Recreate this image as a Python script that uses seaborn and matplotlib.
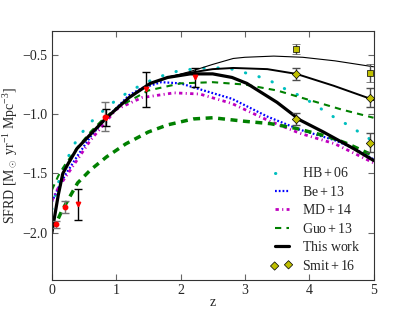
import numpy as np
import pandas as pd
import matplotlib
matplotlib.use("Agg")
import matplotlib.pyplot as plt
import seaborn as sns

# model curves (z, log SFRD)
hb_z = [0, 0.1, 0.2, 0.4, 0.6, 0.8, 1.0, 1.2, 1.4, 1.6, 1.8, 2.0, 2.2, 2.4, 2.6,
        2.8, 3.0, 3.2, 3.4, 3.6, 3.8, 4.0, 4.2, 4.4, 4.6, 4.8, 5.0]
hb_y = [-1.80, -1.58, -1.42, -1.20, -1.07, -0.97, -0.88, -0.81, -0.75, -0.70, -0.66,
        -0.63, -0.62, -0.61, -0.61, -0.62, -0.65, -0.68, -0.72, -0.78, -0.83, -0.89,
        -0.96, -1.03, -1.09, -1.16, -1.23]

be_z = [0, 0.1, 0.2, 0.4, 0.6, 0.8, 1.0, 1.2, 1.4, 1.7, 2.0, 2.3, 2.8, 3.35, 3.85, 4.4, 4.7, 5.0]
be_y = [-1.74, -1.62, -1.52, -1.35, -1.19, -1.06, -0.95, -0.84, -0.78, -0.73, -0.74,
        -0.79, -0.87, -1.02, -1.13, -1.22, -1.29, -1.38]

md_z = [0, 0.1, 0.2, 0.4, 0.6, 0.8, 1.0, 1.4, 1.9, 2.3, 2.8, 3.35, 3.85, 4.4, 5.0]
md_y = [-1.73, -1.62, -1.54, -1.38, -1.22, -1.09, -0.96, -0.86, -0.82, -0.83, -0.91,
        -1.05, -1.16, -1.25, -1.41]

guo_hi_z = [0, 0.1, 0.2, 0.4, 0.6, 0.8, 1.0, 1.5, 2.0, 2.5, 3.0, 3.5, 4.0, 4.5, 5.0]
guo_hi_y = [-1.64, -1.52, -1.43, -1.28, -1.15, -1.04, -0.95, -0.80, -0.74, -0.73,
            -0.75, -0.80, -0.88, -0.96, -1.03]

guo_lo_z = [0.1, 0.15, 0.4, 0.6, 0.85, 1.15, 1.5, 1.8, 2.2, 2.5, 3.0, 3.4, 3.8, 4.3, 4.6, 5.0]
guo_lo_y = [-1.88, -1.82, -1.58, -1.47, -1.36, -1.25, -1.15, -1.09, -1.04, -1.03,
            -1.06, -1.08, -1.12, -1.19, -1.25, -1.35]

work_z = [0, 0.05, 0.1, 0.17, 0.25, 0.39, 0.6, 0.85, 1.2, 1.53, 1.8, 2.15, 2.5, 2.8,
          3.03, 3.5, 3.86, 4.22, 4.69, 5.0]
work_y = [-2.0, -1.84, -1.68, -1.50, -1.42, -1.29, -1.17, -1.03, -0.86, -0.74, -0.69,
          -0.66, -0.66, -0.69, -0.74, -0.90, -1.05, -1.15, -1.29, -1.39]

work_mid_z = [1.8, 2.15, 2.5, 2.82, 3.35, 3.8, 4.38, 4.9, 5.0]
work_mid_y = [-0.69, -0.65, -0.62, -0.61, -0.62, -0.66, -0.76, -0.86, -0.88]

work_thin_z = [1.8, 2.15, 2.5, 2.82, 3.0, 3.45, 3.9, 4.4, 5.0]
work_thin_y = [-0.69, -0.64, -0.58, -0.53, -0.52, -0.51, -0.52, -0.55, -0.60]

# observations
obs_grey_z = [0.06, 0.2, 0.82]
obs_grey_y = [-1.93, -1.78, -1.02]
obs_grey_e = [0.03, 0.05, 0.12]

obs_z = [0.4, 0.84, 1.47, 2.23]
obs_y = [-1.76, -1.03, -0.79, -0.69]
obs_e = [0.13, 0.07, 0.15, 0.08]

smit_sq_z = [3.8, 4.95]
smit_sq_y = [-0.45, -0.65]
smit_sq_e = [0.045, 0.075]

smit_z = [3.8, 3.8, 4.95, 4.95]
smit_y = [-0.66, -1.04, -0.86, -1.24]
smit_e = [0.05, 0.05, 0.08, 0.08]

sns.set_style("ticks")
plt.rcParams["font.family"] = ["Liberation Serif", "DejaVu Serif"]
plt.rcParams["mathtext.fontset"] = "custom"
plt.rcParams["mathtext.rm"] = "Liberation Serif"
plt.rcParams["mathtext.it"] = "Liberation Serif:italic"
plt.rcParams["font.size"] = 10

fig, ax = plt.subplots(figsize=(4.15, 3.12), dpi=100)
fig.subplots_adjust(left=0.125, right=0.9, bottom=0.102, top=0.9)

sns.lineplot(x=hb_z, y=hb_y, ax=ax, color="c", lw=2.2, dash_capstyle="round",
             linestyle=(0, (0.1, 4.5)), label=r"$\mathrm{HB+06}$")
sns.lineplot(x=be_z, y=be_y, ax=ax, color="b", lw=1.6, linestyle=(0, (0.8, 0.9)),
             label=r"$\mathrm{Be+13}$")
sns.lineplot(x=md_z, y=md_y, ax=ax, color="m", lw=2.0, linestyle=(0, (1.2, 1.2, 0.4, 1.2)),
             label=r"$\mathrm{MD+14}$")
sns.lineplot(x=guo_hi_z, y=guo_hi_y, ax=ax, color="g", lw=1.5, linestyle=(0, (3, 2.5)),
             label=r"$\mathrm{Guo+13}$")
sns.lineplot(x=guo_lo_z, y=guo_lo_y, ax=ax, color="g", lw=2.5, linestyle=(0, (2, 1.6)))
sns.lineplot(x=work_thin_z, y=work_thin_y, ax=ax, color="k", lw=0.8)
sns.lineplot(x=work_mid_z, y=work_mid_y, ax=ax, color="k", lw=1.4)
sns.lineplot(x=work_z, y=work_y, ax=ax, color="k", lw=2.3, label=r"$\mathrm{This\ work}$")

ax.errorbar(obs_grey_z, obs_grey_y, yerr=obs_grey_e, fmt="o", color="red", ms=3.2,
            ecolor="0.45", capsize=3, elinewidth=1)
ax.errorbar(obs_z, obs_y, yerr=obs_e, fmt="v", color="red", ms=3.2,
            ecolor="k", capsize=3, elinewidth=1)
ax.errorbar(smit_sq_z, smit_sq_y, yerr=smit_sq_e, fmt="s", mfc="y", mec="k", mew=0.5,
            ms=4.2, ecolor="0.3", capsize=3, elinewidth=1)
ax.errorbar(smit_z, smit_y, yerr=smit_e, fmt="none", ecolor="0.3", capsize=3, elinewidth=1)
sns.scatterplot(x=smit_z, y=smit_y, ax=ax, marker="D", color="y", edgecolor="k",
                linewidth=0.5, s=18, zorder=3, label=r"$\mathrm{Smit+16}$")

ax.set_xlim(0, 5)
ax.set_ylim(-2.4, -0.3)
ax.set_xticks([0, 1, 2, 3, 4, 5])
ax.set_yticks([-2.0, -1.5, -1.0, -0.5])
ax.tick_params(direction="in", top=True, right=True, length=4, color="0.4", pad=3)
for s in ax.spines.values():
    s.set_color("0.2")
    s.set_linewidth(0.8)
ax.set_xlabel("z", labelpad=-1)
ax.set_ylabel(r"SFRD [M$_\odot$ yr$^{-1}$ Mpc$^{-3}$]", labelpad=2)

leg = ax.legend(loc="lower right", frameon=False, numpoints=2, scatterpoints=2,
                handlelength=1.6, handletextpad=0.7, labelspacing=0.32,
                bbox_to_anchor=(1.0, -0.02), fontsize=10)

fig.savefig("out.png", dpi=100)
